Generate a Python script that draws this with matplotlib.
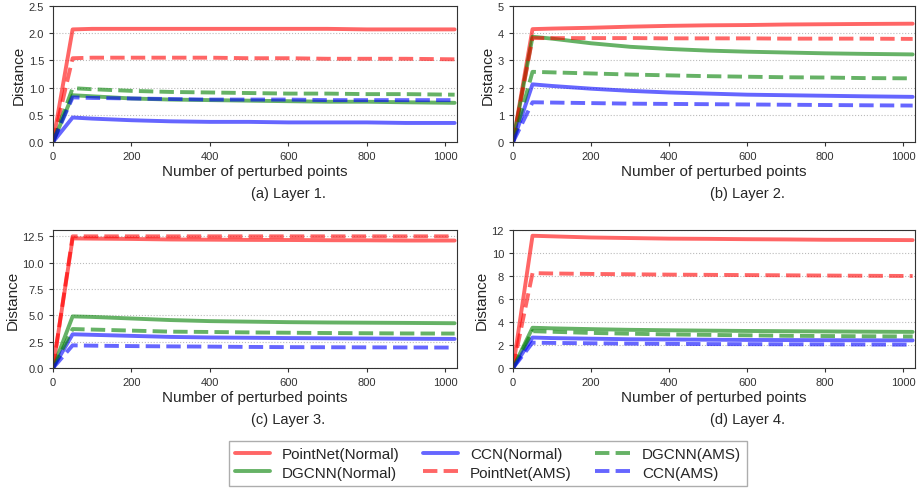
import numpy as np
import matplotlib
matplotlib.use("Agg")
import matplotlib.pyplot as plt
import seaborn as sns

sns.set_style("ticks")
plt.rcParams['font.family'] = ['Liberation Sans', 'DejaVu Sans']

# --- data ---
x_points = [0, 50, 100, 200, 300, 400, 500, 600, 700, 800, 900, 1024]

layer1 = {
    "PointNet(Normal)": [0, 2.07, 2.08, 2.08, 2.08, 2.08, 2.08, 2.08, 2.08, 2.07, 2.07, 2.07],
    "DGCNN(Normal)":    [0, 0.86, 0.84, 0.80, 0.78, 0.77, 0.76, 0.75, 0.74, 0.74, 0.73, 0.72],
    "CCN(Normal)":      [0, 0.45, 0.43, 0.40, 0.38, 0.37, 0.37, 0.36, 0.36, 0.36, 0.35, 0.35],
    "PointNet(AMS)":    [0, 1.54, 1.55, 1.55, 1.55, 1.55, 1.54, 1.54, 1.53, 1.53, 1.53, 1.52],
    "DGCNN(AMS)":       [0, 0.99, 0.97, 0.94, 0.92, 0.91, 0.90, 0.89, 0.89, 0.88, 0.88, 0.87],
    "CCN(AMS)":         [0, 0.82, 0.81, 0.80, 0.79, 0.78, 0.78, 0.78, 0.77, 0.77, 0.77, 0.77],
}
layer2 = {
    "PointNet(Normal)": [0, 4.15, 4.17, 4.20, 4.24, 4.27, 4.29, 4.30, 4.32, 4.33, 4.34, 4.35],
    "DGCNN(Normal)":    [0, 3.87, 3.80, 3.63, 3.50, 3.42, 3.36, 3.32, 3.29, 3.26, 3.24, 3.22],
    "CCN(Normal)":      [0, 2.12, 2.06, 1.96, 1.88, 1.82, 1.78, 1.74, 1.72, 1.70, 1.68, 1.66],
    "PointNet(AMS)":    [0, 3.82, 3.82, 3.82, 3.82, 3.81, 3.81, 3.81, 3.80, 3.80, 3.80, 3.79],
    "DGCNN(AMS)":       [0, 2.58, 2.56, 2.52, 2.48, 2.45, 2.42, 2.40, 2.38, 2.37, 2.35, 2.34],
    "CCN(AMS)":         [0, 1.46, 1.45, 1.43, 1.41, 1.40, 1.39, 1.38, 1.37, 1.36, 1.35, 1.34],
}
layer3 = {
    "PointNet(Normal)": [0, 12.30, 12.28, 12.25, 12.20, 12.18, 12.16, 12.15, 12.13, 12.12, 12.10, 12.10],
    "DGCNN(Normal)":    [0, 4.90, 4.85, 4.70, 4.55, 4.45, 4.40, 4.35, 4.32, 4.30, 4.28, 4.25],
    "CCN(Normal)":      [0, 3.20, 3.15, 3.05, 2.95, 2.90, 2.87, 2.84, 2.82, 2.80, 2.78, 2.76],
    "PointNet(AMS)":    [0, 12.50, 12.50, 12.50, 12.50, 12.50, 12.50, 12.50, 12.50, 12.50, 12.50, 12.50],
    "DGCNN(AMS)":       [0, 3.70, 3.65, 3.55, 3.45, 3.42, 3.38, 3.35, 3.32, 3.30, 3.28, 3.27],
    "CCN(AMS)":         [0, 2.15, 2.12, 2.08, 2.05, 2.03, 2.00, 1.98, 1.97, 1.96, 1.95, 1.94],
}
layer4 = {
    "PointNet(Normal)": [0, 11.50, 11.45, 11.35, 11.30, 11.25, 11.23, 11.20, 11.18, 11.15, 11.14, 11.12],
    "DGCNN(Normal)":    [0, 3.50, 3.45, 3.38, 3.32, 3.28, 3.25, 3.22, 3.20, 3.18, 3.16, 3.14],
    "CCN(Normal)":      [0, 2.65, 2.60, 2.55, 2.50, 2.48, 2.46, 2.44, 2.43, 2.42, 2.41, 2.40],
    "PointNet(AMS)":    [0, 8.25, 8.22, 8.18, 8.15, 8.12, 8.10, 8.08, 8.06, 8.04, 8.02, 8.00],
    "DGCNN(AMS)":       [0, 3.20, 3.15, 3.05, 2.98, 2.92, 2.88, 2.84, 2.80, 2.78, 2.76, 2.74],
    "CCN(AMS)":         [0, 2.20, 2.18, 2.15, 2.12, 2.10, 2.08, 2.07, 2.06, 2.05, 2.04, 2.03],
}

layers = [layer1, layer2, layer3, layer4]
captions = ["(a) Layer 1.", "(b) Layer 2.", "(c) Layer 3.", "(d) Layer 4."]
y_limits = [(0, 2.5), (0, 5), (0, 13.1), (0, 12)]
y_ticks = [np.arange(0, 2.51, 0.5), np.arange(0, 5.1, 1), np.arange(0, 12.6, 2.5), np.arange(0, 12.1, 2)]
y_fmt = ["%.1f", "%d", "%.1f", "%d"]

styles = {
    "PointNet(Normal)": ("red", "-"),
    "DGCNN(Normal)":    ("green", "-"),
    "CCN(Normal)":      ("blue", "-"),
    "PointNet(AMS)":    ("red", "--"),
    "DGCNN(AMS)":       ("green", "--"),
    "CCN(AMS)":         ("blue", "--"),
}

fig = plt.figure(figsize=(9.17, 4.89), dpi=100)
W, H = 917, 489
# axes boxes in pixels: left, top, right, bottom
boxes = [(53, 7, 457, 143), (513, 7, 915, 143), (53, 231, 457, 369), (513, 231, 915, 369)]

handles = None
for i, (data, box) in enumerate(zip(layers, boxes)):
    l, t, r, b = box
    ax = fig.add_axes([l / W, 1 - b / H, (r - l) / W, (b - t) / H])
    hs = []
    for name, vals in data.items():
        c, ls = styles[name]
        h, = ax.plot(x_points, vals, color=c, linestyle=ls, linewidth=2.8, alpha=0.6, label=name)
        hs.append(h)
    handles = hs
    ax.set_xlim(0, 1030)
    ax.set_ylim(*y_limits[i])
    ax.set_xticks([0, 200, 400, 600, 800, 1000])
    ax.set_yticks(y_ticks[i])
    ax.yaxis.set_major_formatter(matplotlib.ticker.FormatStrFormatter(y_fmt[i]))
    ax.yaxis.grid(True, linestyle=':', color='#bbbbbb', linewidth=0.8)
    ax.tick_params(labelsize=8, colors='#333333', length=3)
    for s in ax.spines.values():
        s.set_color('#333333')
    ax.set_xlabel("Number of perturbed points", fontsize=11, labelpad=2)
    ax.set_ylabel("Distance", fontsize=11, labelpad=2)
    fig.text((l + r) / 2 / W + 33 / W, 1 - (b + 51) / H, captions[i], fontsize=10.5, ha='center', va='center')

fig.legend(handles, list(layer1.keys()), loc='lower center', bbox_to_anchor=(488 / W, -0.011),
           ncol=3, fontsize=11, frameon=True, handlelength=2.3, columnspacing=1.5,
           borderpad=0.4, labelspacing=0.3, edgecolor='#999999', fancybox=False)

fig.savefig("out.png", dpi=100)
